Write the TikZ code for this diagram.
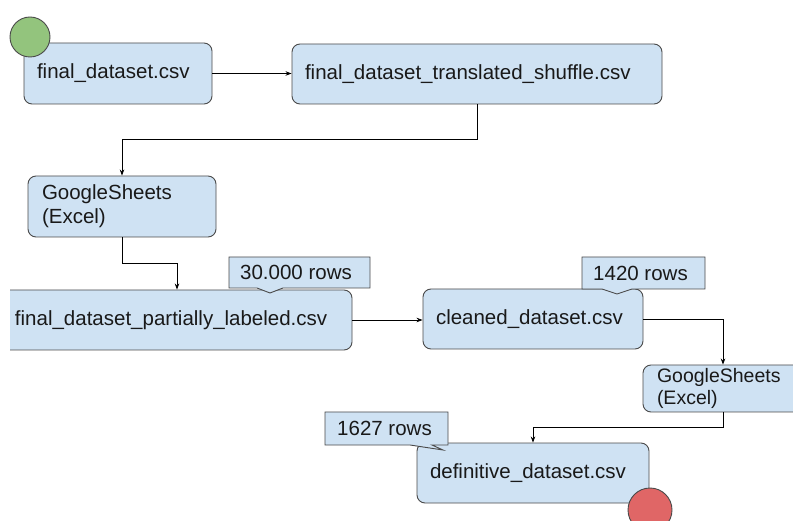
\documentclass[tikz,border=0pt]{standalone}
\usepackage{fontspec}
\setmainfont{Liberation Sans}
\usetikzlibrary{arrows.meta}
\definecolor{boxfill}{HTML}{CFE2F3}
\definecolor{boxline}{HTML}{4A4A4A}
\definecolor{startfill}{HTML}{93C47D}
\definecolor{endfill}{HTML}{E06666}
\tikzset{
  filebox/.style={draw=boxline, fill=boxfill, line width=0.9pt, rounded corners=8pt,
    inner xsep=13pt, inner ysep=0pt, align=left, text=black!90, font=\fontsize{20.5}{24}\selectfont},
  callout/.style={draw=boxline, fill=boxfill, line width=0.9pt},
  calltext/.style={font=\fontsize{20.5}{24}\selectfont, text=black!90, inner sep=0pt},
  flow/.style={draw=black, line width=0.7pt, -{Stealth[length=6pt,width=4.5pt]}},
  marker/.style={circle, draw=boxline, line width=0.9pt, minimum size=40pt, inner sep=0pt}
}
\begin{document}
\begin{tikzpicture}[x=1pt, y=-1pt]
\useasboundingbox (0,0) rectangle (793,521);
\clip (0,0) rectangle (793,521);

% file boxes
\node[filebox, minimum width=188pt, minimum height=61pt, text width=162pt] (src) at (118,73.5) {final\_dataset.csv};
\node[filebox, minimum width=370pt, minimum height=60pt, text width=344pt] (shuf) at (477,74) {final\_dataset\_translated\_shuffle.csv};
\node[filebox, minimum width=188pt, minimum height=61pt, text width=160pt, inner xsep=14pt] (gsa) at (122,206.5) {GoogleSheets\\(Excel)};
\begin{scope}
  \clip (10,0) rectangle (793,521);
  \node[filebox, minimum width=350pt, minimum height=60pt, text width=324pt] (part) at (177,320) {final\_dataset\_partially\_labeled.csv};
\end{scope}
\node[filebox, minimum width=220pt, minimum height=60pt, text width=194pt] (clean) at (533,319) {cleaned\_dataset.csv};
\node[filebox, minimum width=160pt, minimum height=47pt, text width=132pt, inner xsep=14pt,
      font=\fontsize{19.5}{22}\selectfont] (gsb) at (723,388.5) {GoogleSheets\\(Excel)};
\node[filebox, minimum width=232pt, minimum height=60pt, text width=206pt] (final) at (533,473) {definitive\_dataset.csv};

% connectors
\draw[flow] (src.east) -- (src.east -| shuf.west);
\draw[flow] (shuf.south) -- ++(0,35) -| (gsa.north);
\draw[flow] (gsa.south) -- ++(0,26) -| (part.north);
\draw[flow] (part.east) -- (part.east -| clean.west);
\draw[flow] (clean.east) -| (gsb.north);
\draw[flow] (gsb.south) -- ++(0,15) -| (final.north);

% row-count callouts
\draw[callout] (229,257) -- (370,257) -- (370,288) -- (283,288) -- (270,293) -- (257,288) -- (229,288) -- cycle;
\node[calltext] (rowsa) at (296,272.5) {30.000 rows};
\draw[callout] (582,257) -- (705,257) -- (705,289) -- (632,289) -- (617,294) -- (602,289) -- (582,289) -- cycle;
\node[calltext] (rowsb) at (640.5,273) {1420 rows};
\draw[callout] (325,412) -- (448,412) -- (448,445) -- (432,445) -- (443,450) -- (410,445) -- (325,445) -- cycle;
\node[calltext] (rowsc) at (384.5,428.5) {1627 rows};

% start and end markers
\node[marker, fill=startfill] (start) at (30,37) {};
\node[marker, fill=endfill, minimum size=44pt] (stop) at (650,510) {};
\end{tikzpicture}
\end{document}
